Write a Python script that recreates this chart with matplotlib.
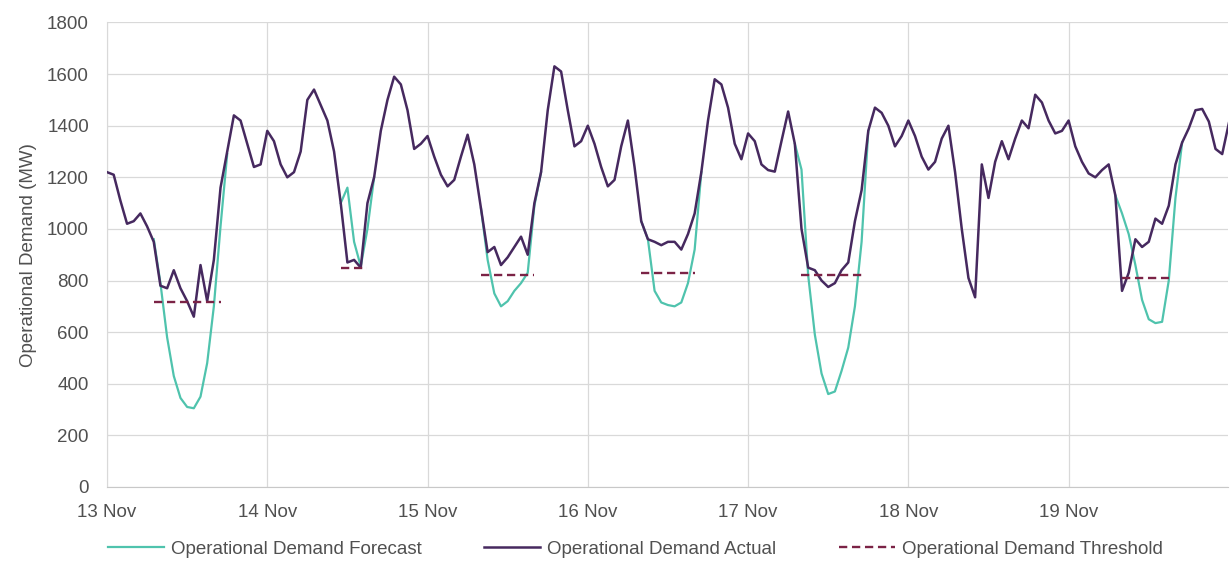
import numpy as np
import matplotlib
matplotlib.use("Agg")
import matplotlib.pyplot as plt

plt.rcParams['font.family'] = ['Liberation Sans', 'DejaVu Sans']

nan = np.nan

# hourly readings, hour 0 = 13 Nov 00:00
actual = [
    1220, 1210, 1110, 1020, 1030, 1060, 1010, 950, 780, 770, 840, 770,      # 13 Nov
    720, 660, 860, 720, 880, 1160, 1300, 1440, 1420, 1330, 1240, 1250,
    1380, 1340, 1250, 1200, 1220, 1300, 1500, 1540, 1480, 1420, 1300, 1100,  # 14 Nov
    870, 880, 850, 1100, 1200, 1380, 1500, 1590, 1560, 1460, 1310, 1330,
    1360, 1280, 1210, 1165, 1190, 1280, 1365, 1250, 1080, 910, 930, 860,     # 15 Nov
    890, 930, 970, 900, 1100, 1220, 1460, 1630, 1610, 1460, 1320, 1340,
    1400, 1330, 1240, 1165, 1190, 1320, 1420, 1240, 1030, 960, 950, 937,     # 16 Nov
    950, 950, 920, 980, 1060, 1220, 1420, 1580, 1560, 1470, 1330, 1270,
    1370, 1340, 1250, 1228, 1222, 1340, 1455, 1330, 1000, 850, 840, 800,     # 17 Nov
    775, 790, 840, 870, 1030, 1150, 1380, 1470, 1450, 1400, 1320, 1360,
    1420, 1360, 1280, 1230, 1260, 1350, 1400, 1220, 1000, 810, 735, 1250,    # 18 Nov
    1120, 1260, 1340, 1270, 1350, 1420, 1390, 1520, 1490, 1420, 1370, 1380,
    1420, 1320, 1260, 1215, 1200, 1228, 1250, 1130, 760, 830, 960, 930,      # 19 Nov
    950, 1040, 1020, 1090, 1250, 1335, 1390, 1460, 1465, 1416, 1310, 1290,
    1410,
]

forecast = [nan] * len(actual)
forecast[7:19] = [960, 790, 580, 430, 345, 310, 305, 350, 480, 700, 1010, 1290]
forecast[35:41] = [1100, 1160, 950, 855, 1000, 1200]
forecast[56:66] = [1080, 880, 750, 700, 720, 760, 790, 830, 1090, 1220]
forecast[80:90] = [1030, 960, 760, 715, 705, 700, 715, 790, 920, 1220]
forecast[103:115] = [1330, 1230, 820, 590, 440, 360, 370, 450, 540, 700, 950, 1380]
forecast[151:162] = [1130, 1060, 980, 860, 725, 650, 635, 640, 800, 1120, 1335]

threshold = [nan] * len(actual)
threshold[7:18] = [715] * 11
threshold[35:40] = [850] * 5
threshold[56:65] = [820] * 9
threshold[80:89] = [830] * 9
threshold[104:114] = [820] * 10
threshold[152:160] = [810] * 8

hours = np.arange(len(actual))
day_labels = ['13 Nov', '14 Nov', '15 Nov', '16 Nov', '17 Nov', '18 Nov', '19 Nov']

txt = '#505050'

fig = plt.figure(figsize=(12.3, 5.62), dpi=100)
ax = fig.add_axes([0.087, 0.1335, 0.911, 0.8265])

ax.plot(hours, forecast, color='#4fc3ad', lw=1.6, label='Operational Demand Forecast', zorder=2)
ax.plot(hours, actual, color='#46295f', lw=1.8, label='Operational Demand Actual', zorder=3)
ax.plot(hours, threshold, color='#7b2346', lw=1.7, ls=(0, (3.5, 2)),
        label='Operational Demand Threshold', zorder=4)

ax.set_xlim(0, 167.8)
ax.set_ylim(0, 1800)
ax.set_yticks(range(0, 1801, 200))
ax.set_xticks(np.arange(0, 145, 24))
ax.set_xticklabels(day_labels)
ax.grid(True, color='#d9d9d9', lw=0.9)
ax.set_axisbelow(True)
for s in ['top', 'right']:
    ax.spines[s].set_visible(False)
ax.spines['left'].set_color('#d9d9d9')
ax.spines['bottom'].set_color('#c8c8c8')
ax.tick_params(axis='both', length=0, labelsize=13.5, colors=txt)
ax.tick_params(axis='x', pad=12)
ax.tick_params(axis='y', pad=13)
ax.set_ylabel('Operational Demand (MW)', fontsize=13.5, color=txt, labelpad=7)

fig.legend(loc='center left', bbox_to_anchor=(0.080, 0.023), ncol=3, frameon=False,
           fontsize=13.5, handlelength=3.0, handletextpad=0.35, columnspacing=3.35,
           borderpad=0, labelcolor=txt)

fig.savefig('out.png', dpi=100, facecolor='white')
